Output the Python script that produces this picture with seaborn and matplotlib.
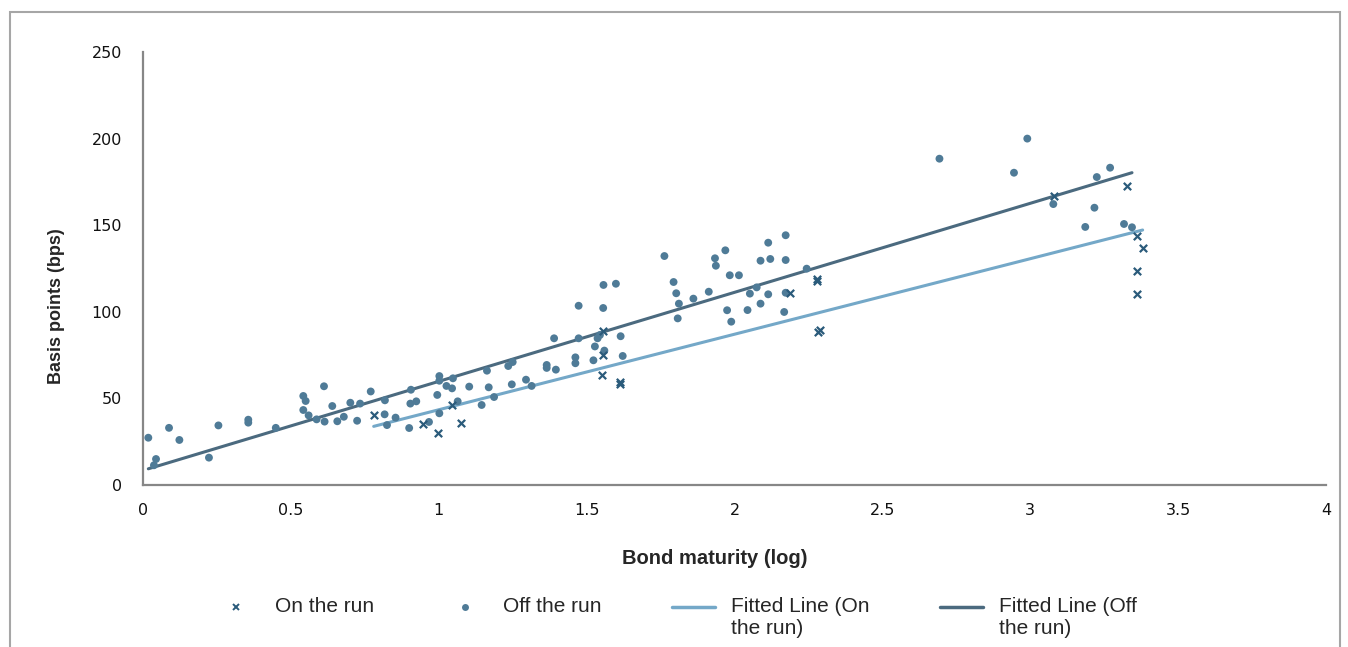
import numpy as np
import pandas as pd
import matplotlib
matplotlib.use("Agg")
import matplotlib.pyplot as plt
import seaborn as sns
from matplotlib.lines import Line2D
from matplotlib.patches import Rectangle
from matplotlib.legend_handler import HandlerLine2D

# On the run bonds (x markers): log maturity vs basis points
on_run_x = [0.78, 0.946, 0.998, 1.044, 1.076, 1.552, 1.554, 1.557, 1.613, 1.614,
            2.186, 2.28, 2.28, 2.282, 2.289, 3.081, 3.328, 3.361, 3.38, 3.361, 3.362]
on_run_y = [40.6, 35.4, 29.8, 46.0, 36.0, 63.3, 75.2, 89.1, 59.3, 58.1,
            111.0, 118.8, 117.5, 88.3, 89.5, 166.9, 172.6, 143.8, 136.7, 123.7, 110.3]

# Off the run bonds (dots)
off_run_x = [0.018, 0.044, 0.037, 0.088, 0.123, 0.223, 0.255, 0.356, 0.356, 0.449,
             0.542, 0.55, 0.542, 0.56, 0.612, 0.587, 0.614, 0.64, 0.657, 0.679,
             0.701, 0.724, 0.734, 0.77, 0.818, 0.817, 0.825, 0.854, 0.9, 0.904,
             0.924, 0.906, 0.967, 1.002, 1.002, 1.048, 1.026, 1.045, 0.995, 1.103,
             1.163, 1.169, 1.064, 1.002, 1.145, 1.187, 1.235, 1.25, 1.247, 1.295,
             1.314, 1.365, 1.365, 1.396, 1.462, 1.462, 1.523, 1.528, 1.56, 1.622,
             1.39, 1.473, 1.473, 1.537, 1.545, 1.556, 1.557, 1.599, 1.615, 1.763,
             1.794, 1.803, 1.812, 1.808, 1.861, 1.913, 1.934, 1.937, 1.969, 1.984,
             2.015, 1.975, 1.989, 2.044, 2.052, 2.075, 2.088, 2.114, 2.121, 2.088,
             2.114, 2.173, 2.168, 2.173, 2.173, 2.244, 2.693, 2.99, 2.945, 3.225,
             3.27, 3.078, 3.217, 3.186, 3.317, 3.344]
off_run_y = [27.3, 15.0, 11.4, 33.0, 26.0, 15.8, 34.4, 37.7, 36.0, 33.0,
             51.4, 48.5, 43.3, 40.2, 57.0, 37.9, 36.6, 45.6, 36.8, 39.4,
             47.5, 37.1, 47.0, 54.0, 48.9, 40.8, 34.6, 38.9, 32.9, 47.0,
             48.3, 55.0, 36.4, 62.9, 60.2, 61.6, 57.2, 55.8, 52.0, 56.8,
             66.0, 56.4, 48.3, 41.4, 46.2, 50.8, 68.7, 71.0, 58.1, 60.8,
             57.2, 69.3, 67.6, 66.6, 73.7, 70.3, 72.0, 80.0, 77.6, 74.5,
             84.7, 103.5, 84.7, 84.7, 86.6, 102.2, 115.5, 116.2, 85.9, 132.2,
             117.2, 110.7, 104.7, 96.2, 107.6, 111.6, 130.9, 126.6, 135.5, 121.1,
             121.1, 100.9, 94.3, 101.0, 110.5, 114.1, 129.5, 139.9, 130.5, 104.7,
             110.1, 129.9, 99.9, 111.0, 144.2, 124.9, 188.4, 200.0, 180.3, 177.8,
             183.2, 162.2, 160.1, 149.0, 150.7, 148.8]

x_ticks = [0, 0.5, 1, 1.5, 2, 2.5, 3, 3.5, 4]
x_tick_labels = ["0", "0.5", "1", "1.5", "2", "2.5", "3", "3.5", "4"]
y_ticks = [0, 50, 100, 150, 200, 250]
legend_labels = ["On the run\n", "Off the run\n", "Fitted Line (On\nthe run)", "Fitted Line (Off\nthe run)"]

on_df = pd.DataFrame({"maturity": on_run_x, "bps": on_run_y})
off_df = pd.DataFrame({"maturity": off_run_x, "bps": off_run_y})

sns.set_style("white")

dot_color = "#4f7b97"
x_color = "#2b5b7b"
on_line_color = "#74a8c8"
off_line_color = "#4b6a7f"
axis_color = "#878787"


class FirstLineHandler(HandlerLine2D):
    # put the legend key level with the first line of a two-line label
    def create_artists(self, legend, orig_handle, xdescent, ydescent, width, height, fontsize, trans):
        artists = super().create_artists(legend, orig_handle, xdescent, ydescent,
                                         width, height, fontsize, trans)
        for a in artists:
            a.set_ydata(np.asarray(a.get_ydata(), dtype=float) + 0.5 * fontsize)
        return artists


fig = plt.figure(figsize=(13.48, 6.47), dpi=100)
ax = fig.add_axes([143 / 1348, 1 - 485 / 647, (1326 - 143) / 1348, (485 - 52) / 647])

# fitted lines first so markers sit on top
sns.regplot(data=on_df, x="maturity", y="bps", scatter=False, ci=None, truncate=True,
            color=on_line_color, line_kws={"linewidth": 2.2}, ax=ax)
sns.regplot(data=off_df, x="maturity", y="bps", scatter=False, ci=None, truncate=True,
            color=off_line_color, line_kws={"linewidth": 2.2}, ax=ax)

sns.scatterplot(data=off_df, x="maturity", y="bps", color=dot_color, marker="o",
                s=32, edgecolor="none", ax=ax, zorder=3)
sns.scatterplot(data=on_df, x="maturity", y="bps", color=x_color, marker="x",
                s=28, linewidth=1.6, ax=ax, zorder=4)

ax.set_xlim(0, 4)
ax.set_ylim(0, 250)
ax.set_xticks(x_ticks)
ax.set_xticklabels(x_tick_labels)
ax.set_yticks(y_ticks)

for side in ["top", "right"]:
    ax.spines[side].set_visible(False)
for side in ["left", "bottom"]:
    ax.spines[side].set_color(axis_color)
    ax.spines[side].set_linewidth(1.6)

ax.tick_params(axis="both", direction="out", length=5, width=1.2, color=axis_color,
               labelsize=11.5, labelcolor="#111111")
ax.tick_params(axis="y", pad=10)
ax.tick_params(axis="x", pad=8)
for lbl in ax.get_xticklabels() + ax.get_yticklabels():
    lbl.set_family("DejaVu Sans")

ax.set_xlabel("Bond maturity (log)", fontsize=14.5, fontweight="bold",
              family=["Liberation Sans", "DejaVu Sans"])
ax.set_ylabel("Basis points (bps)", fontsize=13, fontweight="bold",
              family=["Liberation Sans Narrow", "Liberation Sans", "DejaVu Sans"])
ax.xaxis.set_label_coords(0.4835, -0.148)
ax.yaxis.set_label_coords(-0.066, 0.413)

handles = [
    Line2D([], [], linestyle="none", marker="x", color=x_color, markersize=5, markeredgewidth=1.4),
    Line2D([], [], linestyle="none", marker="o", color=dot_color, markersize=5, markeredgewidth=0),
    Line2D([], [], color=on_line_color, linewidth=2.5),
    Line2D([], [], color=off_line_color, linewidth=2.5),
]
fig.legend(handles, legend_labels, loc="upper center", bbox_to_anchor=(0.5015, 0.106),
           ncol=4, frameon=False, handlelength=2.07, handletextpad=0.8,
           columnspacing=3.35, handler_map={Line2D: FirstLineHandler()},
           prop={"family": ["Liberation Sans", "DejaVu Sans"], "size": 15})

# thin outer frame like the original chart box
fig.patches.append(Rectangle((10 / 1348, -0.1), 1330 / 1348, 1.1 - 12 / 647,
                             transform=fig.transFigure, fill=False,
                             edgecolor="#a6a6a6", linewidth=1.5))

fig.savefig("out.png", dpi=100)
